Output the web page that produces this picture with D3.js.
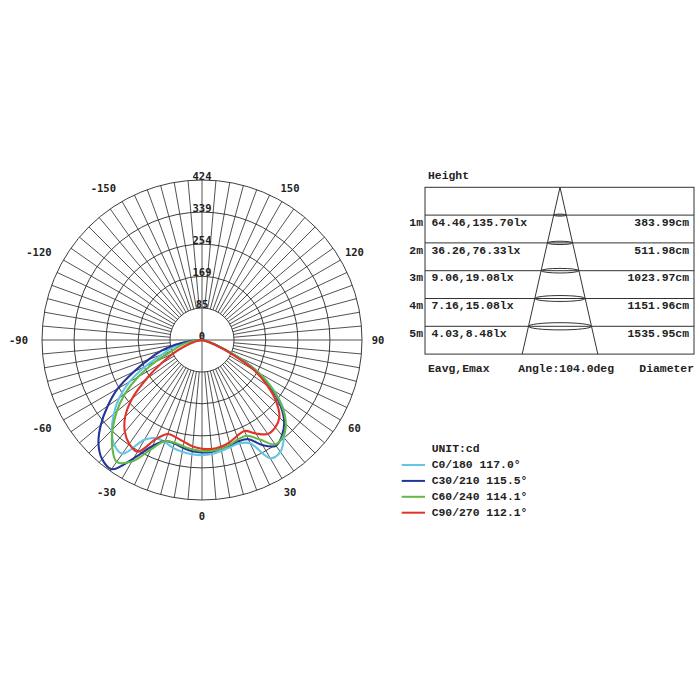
<!DOCTYPE html>
<html><head><meta charset="utf-8">
<script src="https://cdn.jsdelivr.net/npm/d3@7"></script>
<style>body{margin:0;background:#fff}svg{display:block}</style>
</head><body>
<svg id="c" width="700" height="700"></svg>
<script>
// ---------- data ----------
const angles = d3.range(-90, 91, 5); // gamma angle, 0 = straight down, + to the right
const c0_180  = [0,25,55,85,112,165,222,268,305,338,362,368,305,287,288,296,301,304,305,303,298,293,291,302,362,362,338,312,280,232,175,100,44,16,4,0,0];
const c30_210 = [0,30,72,112,150,200,258,305,350,388,412,418,362,310,285,284,290,296,298,297,292,288,285,290,322,342,330,308,272,225,168,95,40,14,4,0,0];
const c60_240 = [0,15,40,62,85,135,195,250,295,335,370,394,372,320,285,282,286,291,294,295,292,287,280,280,304,338,334,314,278,230,172,98,42,15,4,0,0];
const c90_270 = [0,0,8,25,50,85,125,180,242,288,318,336,342,290,265,267,274,283,288,290,287,281,271,266,286,304,302,290,258,212,158,85,35,12,3,0,0];
const seriesNames = ["C0/180 117.0°","C30/210 115.5°","C60/240 114.1°","C90/270 112.1°"];
const seriesColors = ["#62c6e4","#23359a","#62b947","#e2322a"];
const ringValues = [85,169,254,339,424];
const angleLabels = [-150,-120,-90,-60,-30,0,30,60,90,120,150];
const heights = ["1m","2m","3m","4m","5m"];
const illum = ["64.46,135.70lx","36.26,76.33lx","9.06,19.08lx","7.16,15.08lx","4.03,8.48lx"];
const diameters = ["383.99cm","511.98cm","1023.97cm","1151.96cm","1535.95cm"];
const beamAngle = "Angle:104.0deg";
const unitLabel = "UNIT:cd";

// ---------- polar chart ----------
const svg = d3.select("#c");
const cx = 202, cy = 340, R = 160;
const r = d3.scaleLinear().domain([0, 424]).range([0, R]);
const rad = a => a * Math.PI / 180;
const g = svg.append("g").attr("transform", `translate(${cx},${cy})`);
const gridCol = "#333";

// spokes every 5 degrees
const spokes = d3.range(0, 360, 5);
g.selectAll("line.spoke").data(spokes).join("line")
  .attr("x1", a => (a % 90 === 0 ? 0 : r(85)) * Math.sin(rad(a)))
  .attr("y1", a => (a % 90 === 0 ? 0 : r(85)) * Math.cos(rad(a)))
  .attr("x2", a => R * Math.sin(rad(a)))
  .attr("y2", a => R * Math.cos(rad(a)))
  .attr("stroke", gridCol).attr("stroke-width", 0.85);

g.selectAll("circle.ring").data(ringValues).join("circle")
  .attr("r", d => r(d)).attr("fill", "none")
  .attr("stroke", gridCol).attr("stroke-width", 0.95);

// ring labels
const lblFont = "'DejaVu Sans Mono', monospace";
g.selectAll("text.rl").data([0, ...ringValues]).join("text")
  .attr("x", 0).attr("y", d => -r(d))
  .attr("text-anchor", "middle")
  .attr("font-family", lblFont).attr("font-size", 10.5).attr("font-weight", "bold")
  .attr("fill", "#222").text(d => d);

// angle labels
const LR = 176;
g.selectAll("text.al").data(angleLabels).join("text")
  .attr("x", d => LR * Math.sin(rad(d)))
  .attr("y", d => LR * Math.cos(rad(d)))
  .attr("text-anchor", d => d < 0 ? "end" : "middle")
  .attr("dx", d => d < 0 ? 2 : 0)
  .attr("dominant-baseline", "central")
  .attr("font-family", lblFont).attr("font-size", 10.5).attr("font-weight", "bold")
  .attr("fill", "#222").text(d => d);

// curves
const line = d3.lineRadial()
  .angle(d => rad(180 - d[0]))
  .radius(d => r(d[1]))
  .curve(d3.curveCatmullRom.alpha(0.5));
const series = [c0_180, c30_210, c60_240, c90_270];
series.forEach((vals, i) => {
  g.append("path")
    .datum(angles.map((a, j) => [a, vals[j]]))
    .attr("d", line)
    .attr("fill", "none")
    .attr("stroke", seriesColors[i])
    .attr("stroke-width", 2.1)
    .attr("stroke-linejoin", "round");
});

// ---------- table ----------
const tFont = "'Liberation Mono', 'DejaVu Sans Mono', monospace";
const tx0 = 425, tx1 = 694, ty0 = 187.3, rowH = 27.8;
const apexX = 560, baseHalf = 37.8, ty1 = ty0 + rowH * 6;
const t = svg.append("g").attr("font-family", tFont).attr("font-size", 11.4)
  .attr("font-weight", "bold").attr("fill", "#222");
t.append("rect").attr("x", tx0).attr("y", ty0).attr("width", tx1 - tx0)
  .attr("height", ty1 - ty0).attr("fill", "none").attr("stroke", "#333").attr("stroke-width", 1);
const rowY = heights.map((h, i) => ty0 + rowH * (i + 1));
t.selectAll("line.row").data(rowY).join("line")
  .attr("x1", tx0).attr("x2", tx1).attr("y1", d => d).attr("y2", d => d)
  .attr("stroke", "#333").attr("stroke-width", 1);
// cone
const halfAt = y => baseHalf * (y - ty0) / (ty1 - ty0);
t.append("line").attr("x1", apexX).attr("y1", ty0).attr("x2", apexX - baseHalf).attr("y2", ty1)
  .attr("stroke", "#333").attr("stroke-width", 1);
t.append("line").attr("x1", apexX).attr("y1", ty0).attr("x2", apexX + baseHalf).attr("y2", ty1)
  .attr("stroke", "#333").attr("stroke-width", 1);
t.selectAll("ellipse").data(rowY).join("ellipse")
  .attr("cx", apexX).attr("cy", d => d)
  .attr("rx", d => halfAt(d)).attr("ry", (d, i) => 1 + i * 0.65)
  .attr("fill", "none").attr("stroke", "#333").attr("stroke-width", 1);
t.append("text").attr("x", 428).attr("y", 176).attr("dominant-baseline", "central").text("Height");
t.selectAll("text.h").data(heights).join("text")
  .attr("x", 423).attr("y", (d, i) => rowY[i] + 7.7).attr("text-anchor", "end")
  .attr("dominant-baseline", "central").text(d => d);
t.selectAll("text.e").data(illum).join("text")
  .attr("x", 431.5).attr("y", (d, i) => rowY[i] + 7.7)
  .attr("dominant-baseline", "central").text(d => d);
t.selectAll("text.d").data(diameters).join("text")
  .attr("x", 689).attr("y", (d, i) => rowY[i] + 7.7).attr("text-anchor", "end")
  .attr("dominant-baseline", "central").text(d => d);
t.append("text").attr("x", 428).attr("y", 369.3).attr("dominant-baseline", "central").text("Eavg,Emax");
t.append("text").attr("x", 518.3).attr("y", 369.3).attr("dominant-baseline", "central").text(beamAngle);
t.append("text").attr("x", 694).attr("y", 369.3).attr("text-anchor", "end").attr("dominant-baseline", "central").text("Diameter");

// ---------- legend ----------
const lg = svg.append("g").attr("font-family", tFont).attr("font-size", 11.4)
  .attr("font-weight", "bold").attr("fill", "#222");
lg.append("text").attr("x", 431.7).attr("y", 449).attr("dominant-baseline", "central").text(unitLabel);
const legY = seriesNames.map((s, i) => 465 + i * 15.9);
lg.selectAll("line").data(seriesNames).join("line")
  .attr("x1", 401.7).attr("x2", 425).attr("y1", (d, i) => legY[i]).attr("y2", (d, i) => legY[i])
  .attr("stroke", (d, i) => seriesColors[i]).attr("stroke-width", 2);
lg.selectAll("text.s").data(seriesNames).join("text")
  .attr("x", 431.7).attr("y", (d, i) => legY[i]).attr("dominant-baseline", "central").text(d => d);
</script>
</body></html>
